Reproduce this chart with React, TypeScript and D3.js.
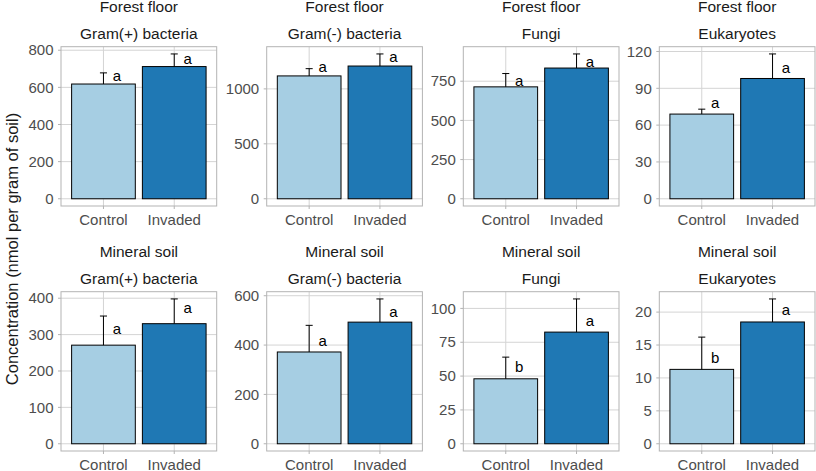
import * as d3 from 'd3';
import React, { useEffect, useRef } from 'react';

// facets
const depths = ['Forest floor', 'Mineral soil'];
const groups = ['Gram(+) bacteria', 'Gram(-) bacteria', 'Fungi', 'Eukaryotes'];
const treatments = ['Control', 'Invaded'];

// [Control, Invaded] for each group
const forestMeans = [[618, 712], [1118, 1208], [714, 834], [69, 98]];
const forestSE = [[60, 68], [66, 110], [85, 90], [4, 20]];
const forestLetters = [['a', 'a'], ['a', 'a'], ['a', 'a'], ['a', 'a']];
const forestLetterY = [[660, 753], [1199, 1289], [752, 873], [78, 107]];

const mineralMeans = [[271, 330], [372, 493], [48, 82.5], [11.3, 18.5]];
const mineralSE = [[80, 68], [108, 94], [16, 24.5], [4.9, 3.5]];
const mineralLetters = [['a', 'a'], ['a', 'a'], ['b', 'a'], ['b', 'a']];
const mineralLetterY = [[316, 374], [416, 536], [57, 90.7], [13.0, 20.3]];

const forestTicks = [[0, 200, 400, 600, 800], [0, 500, 1000], [0, 250, 500, 750], [0, 30, 60, 90, 120]];
const mineralTicks = [[0, 100, 200, 300, 400], [0, 200, 400, 600], [0, 25, 50, 75, 100], [0, 5, 10, 15, 20]];

const fillColors = ['#A6CEE3', '#1F78B4'];

const App: React.FC = () => {
  const svgRef = useRef<SVGSVGElement>(null);
  const width = 816;
  const height = 471;

  useEffect(() => {
    if (!svgRef.current) return;
    const svg = d3.select(svgRef.current);
    svg.selectAll('*').remove();

    const font = 'Liberation Sans, Arial, sans-serif';
    const panelLefts = [61, 266.7, 463.3, 659.3];
    const panelTops = [46.7, 291.7];
    const panelW = 155.7;
    const panelH = 159.3;

    const rows = [
      { means: forestMeans, se: forestSE, letters: forestLetters, letterY: forestLetterY, ticks: forestTicks },
      { means: mineralMeans, se: mineralSE, letters: mineralLetters, letterY: mineralLetterY, ticks: mineralTicks }
    ];

    rows.forEach((row, r) => {
      groups.forEach((group, c) => {
        const means = row.means[c];
        const se = row.se[c];
        const data = treatments.map((t, i) => ({
          treatment: t,
          mean: means[i],
          top: means[i] + se[i],
          letter: row.letters[c][i],
          letterY: row.letterY[c][i],
          color: fillColors[i]
        }));

        const g = svg.append('g')
          .attr('transform', `translate(${panelLefts[c]}, ${panelTops[r]})`);

        const x = d3.scaleBand<string>()
          .domain(treatments)
          .range([0, panelW])
          .paddingInner(0.1)
          .paddingOuter(0.15);

        const maxY = d3.max(data, d => d.top) as number;
        const y = d3.scaleLinear()
          .domain([-0.05 * maxY, 1.05 * maxY])
          .range([panelH, 0]);

        const ticks = row.ticks[c];
        const cx = (t: string) => (x(t) as number) + x.bandwidth() / 2;

        // grid
        g.selectAll('.hgrid')
          .data(ticks)
          .join('line')
          .attr('x1', 0)
          .attr('x2', panelW)
          .attr('y1', d => y(d))
          .attr('y2', d => y(d))
          .attr('stroke', '#D4D4D4')
          .attr('stroke-width', 1);

        g.selectAll('.vgrid')
          .data(treatments)
          .join('line')
          .attr('x1', d => cx(d))
          .attr('x2', d => cx(d))
          .attr('y1', 0)
          .attr('y2', panelH)
          .attr('stroke', '#D4D4D4')
          .attr('stroke-width', 1);

        // bars
        g.selectAll('.bar')
          .data(data)
          .join('rect')
          .attr('x', d => x(d.treatment) as number)
          .attr('width', x.bandwidth())
          .attr('y', d => y(d.mean))
          .attr('height', d => y(0) - y(d.mean))
          .attr('fill', d => d.color)
          .attr('stroke', '#000')
          .attr('stroke-width', 1);

        // error bars (upper only)
        const capW = x.step() * 0.1;
        g.selectAll('.errv')
          .data(data)
          .join('line')
          .attr('x1', d => cx(d.treatment))
          .attr('x2', d => cx(d.treatment))
          .attr('y1', d => y(d.mean))
          .attr('y2', d => y(d.top))
          .attr('stroke', '#000')
          .attr('stroke-width', 1);

        g.selectAll('.errcap')
          .data(data)
          .join('line')
          .attr('x1', d => cx(d.treatment) - capW / 2)
          .attr('x2', d => cx(d.treatment) + capW / 2)
          .attr('y1', d => y(d.top))
          .attr('y2', d => y(d.top))
          .attr('stroke', '#000')
          .attr('stroke-width', 1);

        // significance letters
        g.selectAll('.letter')
          .data(data)
          .join('text')
          .attr('x', d => cx(d.treatment) + x.step() * 0.19)
          .attr('y', d => y(d.letterY))
          .attr('dy', '0.35em')
          .attr('text-anchor', 'middle')
          .style('font-family', font)
          .style('font-size', '15px')
          .attr('fill', '#000')
          .text(d => d.letter);

        // panel border
        g.append('rect')
          .attr('x', 0)
          .attr('y', 0)
          .attr('width', panelW)
          .attr('height', panelH)
          .attr('fill', 'none')
          .attr('stroke', '#B3B3B3')
          .attr('stroke-width', 1);

        // y axis
        g.selectAll('.ytick')
          .data(ticks)
          .join('line')
          .attr('x1', -3)
          .attr('x2', 0)
          .attr('y1', d => y(d))
          .attr('y2', d => y(d))
          .attr('stroke', '#B3B3B3');

        g.selectAll('.ylab')
          .data(ticks)
          .join('text')
          .attr('x', -7.5)
          .attr('y', d => y(d))
          .attr('dy', '0.35em')
          .attr('text-anchor', 'end')
          .style('font-family', font)
          .style('font-size', '15px')
          .attr('fill', '#4D4D4D')
          .text(d => d3.format('d')(d));

        // x axis
        g.selectAll('.xtick')
          .data(treatments)
          .join('line')
          .attr('x1', d => cx(d))
          .attr('x2', d => cx(d))
          .attr('y1', panelH)
          .attr('y2', panelH + 3)
          .attr('stroke', '#B3B3B3');

        g.selectAll('.xlab')
          .data(treatments)
          .join('text')
          .attr('x', d => cx(d))
          .attr('y', panelH + 14)
          .attr('dy', '0.35em')
          .attr('text-anchor', 'middle')
          .style('font-family', font)
          .style('font-size', '15px')
          .attr('fill', '#4D4D4D')
          .text(d => d);

        // strip labels
        g.append('text')
          .attr('x', panelW / 2)
          .attr('y', -40)
          .attr('dy', '0.35em')
          .attr('text-anchor', 'middle')
          .style('font-family', font)
          .style('font-size', '15.5px')
          .attr('fill', '#1A1A1A')
          .text(depths[r]);

        g.append('text')
          .attr('x', panelW / 2)
          .attr('y', -13)
          .attr('dy', '0.35em')
          .attr('text-anchor', 'middle')
          .style('font-family', font)
          .style('font-size', '15.5px')
          .attr('fill', '#1A1A1A')
          .text(group);
      });
    });

    // y axis title
    svg.append('text')
      .attr('transform', `translate(12.5, 249) rotate(-90)`)
      .attr('dy', '0.35em')
      .attr('text-anchor', 'middle')
      .style('font-family', font)
      .style('font-size', '16.5px')
      .attr('fill', '#1A1A1A')
      .text('Concentration (nmol per gram of soil)');
  }, []);

  return (
    <svg
      ref={svgRef}
      width={width}
      height={height}
      style={{ position: 'absolute', left: 0, top: 0, background: '#fff' }}
    />
  );
};

export default App;
